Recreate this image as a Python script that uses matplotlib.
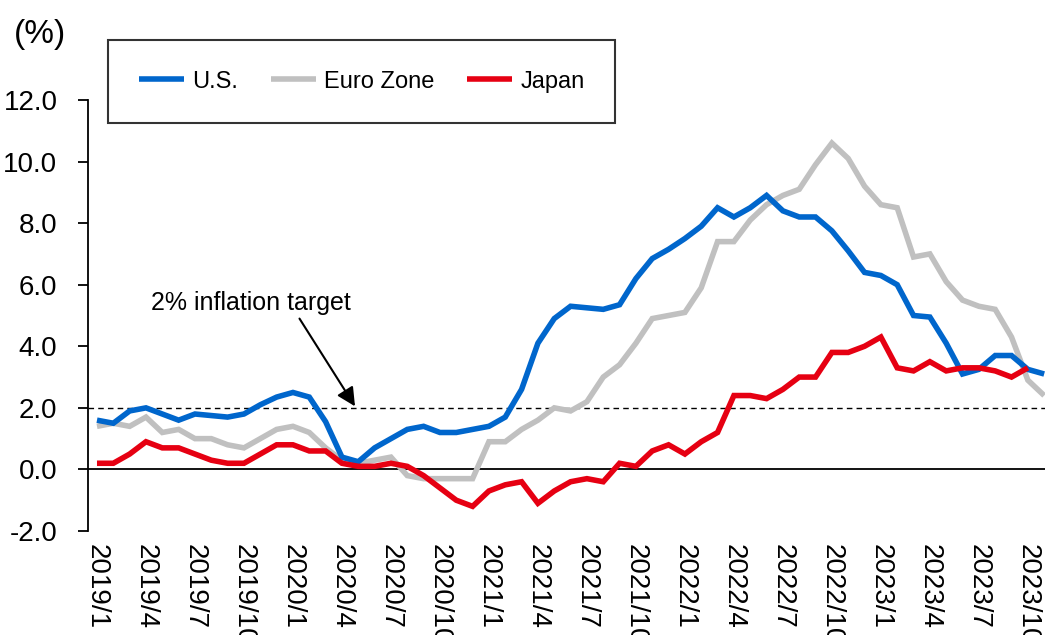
import pandas as pd
import matplotlib
matplotlib.use("Agg")
from matplotlib import pyplot as plt

plt.rcParams['font.family'] = ['Liberation Sans Narrow', 'Liberation Sans', 'DejaVu Sans']

# monthly CPI, year-on-year %, 2019/1 .. 2023/11
months = pd.date_range("2019-01-01", "2023-11-01", freq="MS")
month_labels = [str(d.year) + "/" + str(d.month) for d in months]

us = [1.6, 1.5, 1.9, 2.0, 1.8, 1.6, 1.8, 1.75, 1.7, 1.8, 2.1, 2.35,
      2.5, 2.35, 1.55, 0.4, 0.25, 0.7, 1.0, 1.3, 1.4, 1.2, 1.2, 1.3,
      1.4, 1.7, 2.6, 4.1, 4.9, 5.3, 5.25, 5.2, 5.35, 6.2, 6.85, 7.15,
      7.5, 7.9, 8.5, 8.2, 8.5, 8.9, 8.4, 8.2, 8.2, 7.75, 7.1, 6.4,
      6.3, 6.0, 5.0, 4.95, 4.1, 3.1, 3.25, 3.7, 3.7, 3.25, 3.1]
euro = [1.4, 1.5, 1.4, 1.7, 1.2, 1.3, 1.0, 1.0, 0.8, 0.7, 1.0, 1.3,
        1.4, 1.2, 0.7, 0.3, 0.2, 0.3, 0.4, -0.2, -0.3, -0.3, -0.3, -0.3,
        0.9, 0.9, 1.3, 1.6, 2.0, 1.9, 2.2, 3.0, 3.4, 4.1, 4.9, 5.0,
        5.1, 5.9, 7.4, 7.4, 8.1, 8.6, 8.9, 9.1, 9.9, 10.6, 10.1, 9.2,
        8.6, 8.5, 6.9, 7.0, 6.1, 5.5, 5.3, 5.2, 4.3, 2.9, 2.4]
japan = [0.2, 0.2, 0.5, 0.9, 0.7, 0.7, 0.5, 0.3, 0.2, 0.2, 0.5, 0.8,
         0.8, 0.6, 0.6, 0.2, 0.1, 0.1, 0.2, 0.1, -0.2, -0.6, -1.0, -1.2,
         -0.7, -0.5, -0.4, -1.1, -0.7, -0.4, -0.3, -0.4, 0.2, 0.1, 0.6, 0.8,
         0.5, 0.9, 1.2, 2.4, 2.4, 2.3, 2.6, 3.0, 3.0, 3.8, 3.8, 4.0,
         4.3, 3.3, 3.2, 3.5, 3.2, 3.3, 3.3, 3.2, 3.0, 3.3, None]

target = 2.0
y_ticks = [-2.0, 0.0, 2.0, 4.0, 6.0, 8.0, 10.0, 12.0]

df = pd.DataFrame({'U.S.': us, 'Euro Zone': euro, 'Japan': japan}, index=month_labels).astype(float)
x = list(range(len(df)))

fig = plt.figure(figsize=(10.45, 6.35), dpi=100)
ax = fig.add_axes([88 / 1045, 1 - 531 / 635, 1 - 88 / 1045, (531 - 100) / 635])

# reference lines first so the series sit on top
ax.axhline(0, color='black', lw=1.3, zorder=1)
ax.axhline(target, color='black', lw=1.0, ls=(0, (4, 3)), zorder=1)

colors = {'U.S.': '#0066CC', 'Euro Zone': '#C0C0C0', 'Japan': '#E60012'}
for name in ['Euro Zone', 'U.S.', 'Japan']:
    ax.plot(x, df[name], color=colors[name], lw=4, label=name,
            solid_capstyle='butt', solid_joinstyle='miter', zorder=3)

ax.set_xlim(-0.55, 58.05)
ax.set_ylim(-2.0, 12.0)
ax.set_yticks(y_ticks)
ax.set_yticklabels(['%.1f' % v for v in y_ticks])
ax.set_xticks(x[::3])
ax.set_xticklabels(month_labels[::3], rotation=-90)

for side in ['top', 'right', 'bottom']:
    ax.spines[side].set_visible(False)
ax.spines['left'].set_linewidth(1.3)
ax.tick_params(axis='y', direction='out', length=7, width=1.3, pad=15, labelsize=20)
ax.tick_params(axis='x', length=0, pad=9, labelsize=20)

# annotation for the 2% line
ax.annotate('', xy=(15.8, 2.05), xytext=(12.4, 4.9),
            arrowprops=dict(arrowstyle='-|>', color='black', lw=1.5,
                            mutation_scale=28, shrinkA=0, shrinkB=0))
ax.text(9.4, 5.4, '2% inflation target', fontsize=18, ha='center', va='center')

fig.text(40 / 1045, 1 - 35 / 635, '(%)', fontsize=24, ha='center', va='center')

# legend order as in the reference
handles, labels = ax.get_legend_handles_labels()
order = [labels.index(n) for n in ['U.S.', 'Euro Zone', 'Japan']]
leg = fig.legend([handles[i] for i in order], [labels[i] for i in order],
                 loc='upper left', bbox_to_anchor=(108 / 1045, 1 - 40 / 635),
                 ncol=3, fontsize=17, frameon=True, fancybox=False,
                 borderaxespad=0, borderpad=1.3, handlelength=1.9,
                 handletextpad=0.35, columnspacing=1.4)
leg.get_frame().set_edgecolor('black')
leg.get_frame().set_linewidth(1.5)

fig.savefig('out.png', dpi=100)
